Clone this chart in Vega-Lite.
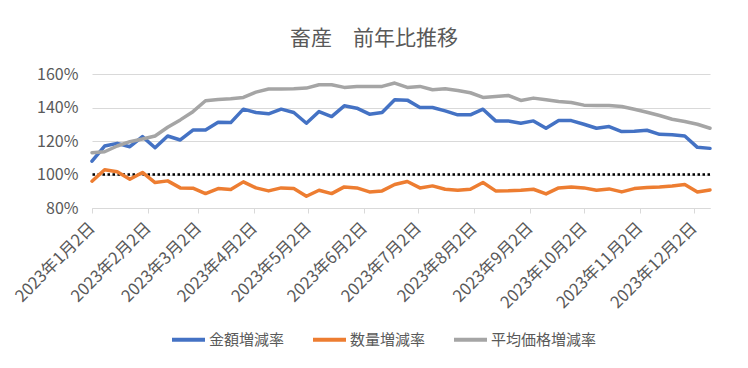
{
  "$schema": "https://vega.github.io/schema/vega-lite/v6.json",
  "width": 618,
  "height": 134,
  "autosize": {"type": "none"},
  "padding": {"left": 92, "top": 74, "right": 38, "bottom": 160},
  "background": "white",
  "config": {"font": "Noto Sans CJK JP", "view": {"stroke": null}},
  "title": {"text": "畜産　前年比推移", "fontSize": 21, "fontWeight": "normal", "color": "#595959", "anchor": "middle", "dx": -27, "offset": -4, "baseline": "bottom", "font": "Noto Sans CJK JP"},
  "data": {"values": [
    {"date": "2023-01-02T00:00:00", "金額増減率": 108, "数量増減率": 96, "平均価格増減率": 113},
    {"date": "2023-01-09T00:00:00", "金額増減率": 117, "数量増減率": 102.8, "平均価格増減率": 113.6},
    {"date": "2023-01-16T00:00:00", "金額増減率": 118.6, "数量増減率": 101.6, "平均価格増減率": 117},
    {"date": "2023-01-23T00:00:00", "金額増減率": 116.6, "数量増減率": 97.2, "平均価格増減率": 119.6},
    {"date": "2023-01-30T00:00:00", "金額増減率": 122.6, "数量増減率": 101.2, "平均価格増減率": 121.2},
    {"date": "2023-02-06T00:00:00", "金額増減率": 116, "数量増減率": 95.2, "平均価格増減率": 123},
    {"date": "2023-02-13T00:00:00", "金額増減率": 123, "数量増減率": 96.2, "平均価格増減率": 128.2},
    {"date": "2023-02-20T00:00:00", "金額増減率": 120.6, "数量増減率": 92, "平均価格増減率": 132.6},
    {"date": "2023-02-27T00:00:00", "金額増減率": 126.5, "数量増減率": 91.8, "平均価格増減率": 137.5},
    {"date": "2023-03-06T00:00:00", "金額増減率": 126.6, "数量増減率": 88.6, "平均価格増減率": 144},
    {"date": "2023-03-13T00:00:00", "金額増減率": 131.2, "数量増減率": 91.6, "平均価格増減率": 144.8},
    {"date": "2023-03-20T00:00:00", "金額増減率": 131, "数量増減率": 91, "平均価格増減率": 145.2},
    {"date": "2023-03-27T00:00:00", "金額増減率": 139, "数量増減率": 95.6, "平均価格増減率": 146},
    {"date": "2023-04-03T00:00:00", "金額増減率": 137, "数量増減率": 92, "平均価格増減率": 149.2},
    {"date": "2023-04-10T00:00:00", "金額増減率": 136.2, "数量増減率": 90.2, "平均価格増減率": 151},
    {"date": "2023-04-17T00:00:00", "金額増減率": 139, "数量増減率": 92, "平均価格増減率": 151},
    {"date": "2023-04-24T00:00:00", "金額増減率": 137, "数量増減率": 91.6, "平均価格増減率": 151.2},
    {"date": "2023-05-01T00:00:00", "金額増減率": 130.6, "数量増減率": 87, "平均価格増減率": 151.6},
    {"date": "2023-05-08T00:00:00", "金額増減率": 137.6, "数量増減率": 90.6, "平均価格増減率": 153.6},
    {"date": "2023-05-15T00:00:00", "金額増減率": 134.6, "数量増減率": 88.6, "平均価格増減率": 153.6},
    {"date": "2023-05-22T00:00:00", "金額増減率": 141, "数量増減率": 92.6, "平均価格増減率": 152},
    {"date": "2023-05-29T00:00:00", "金額増減率": 139.6, "数量増減率": 92, "平均価格増減率": 152.6},
    {"date": "2023-06-05T00:00:00", "金額増減率": 136, "数量増減率": 89.6, "平均価格増減率": 152.6},
    {"date": "2023-06-12T00:00:00", "金額増減率": 137, "数量増減率": 90.2, "平均価格増減率": 152.6},
    {"date": "2023-06-19T00:00:00", "金額増減率": 144.6, "数量増減率": 94, "平均価格増減率": 154.6},
    {"date": "2023-06-26T00:00:00", "金額増減率": 144.4, "数量増減率": 95.8, "平均価格増減率": 152},
    {"date": "2023-07-03T00:00:00", "金額増減率": 140, "数量増減率": 92, "平均価格増減率": 152.6},
    {"date": "2023-07-10T00:00:00", "金額増減率": 140, "数量増減率": 93.2, "平均価格増減率": 150.6},
    {"date": "2023-07-17T00:00:00", "金額増減率": 138, "数量増減率": 91.2, "平均価格増減率": 151.2},
    {"date": "2023-07-24T00:00:00", "金額増減率": 135.6, "数量増減率": 90.6, "平均価格増減率": 150.2},
    {"date": "2023-07-31T00:00:00", "金額増減率": 135.6, "数量増減率": 91.2, "平均価格増減率": 148.8},
    {"date": "2023-08-07T00:00:00", "金額増減率": 139, "数量増減率": 95.2, "平均価格増減率": 146},
    {"date": "2023-08-14T00:00:00", "金額増減率": 132, "数量増減率": 90.2, "平均価格増減率": 146.6},
    {"date": "2023-08-21T00:00:00", "金額増減率": 132, "数量増減率": 90.3, "平均価格増減率": 147.2},
    {"date": "2023-08-28T00:00:00", "金額増減率": 130.6, "数量増減率": 90.6, "平均価格増減率": 144.2},
    {"date": "2023-09-04T00:00:00", "金額増減率": 132, "数量増減率": 91.2, "平均価格増減率": 145.6},
    {"date": "2023-09-11T00:00:00", "金額増減率": 127.6, "数量増減率": 88.4, "平均価格増減率": 144.6},
    {"date": "2023-09-18T00:00:00", "金額増減率": 132.2, "数量増減率": 92, "平均価格増減率": 143.6},
    {"date": "2023-09-25T00:00:00", "金額増減率": 132.2, "数量増減率": 92.6, "平均価格増減率": 143},
    {"date": "2023-10-02T00:00:00", "金額増減率": 130, "数量増減率": 92, "平均価格増減率": 141.4},
    {"date": "2023-10-09T00:00:00", "金額増減率": 127.6, "数量増減率": 90.6, "平均価格増減率": 141.2},
    {"date": "2023-10-16T00:00:00", "金額増減率": 128.6, "数量増減率": 91.4, "平均価格増減率": 141.2},
    {"date": "2023-10-23T00:00:00", "金額増減率": 125.6, "数量増減率": 89.6, "平均価格増減率": 140.6},
    {"date": "2023-10-30T00:00:00", "金額増減率": 125.8, "数量増減率": 91.6, "平均価格増減率": 139},
    {"date": "2023-11-06T00:00:00", "金額増減率": 126.4, "数量増減率": 92.2, "平均価格増減率": 137.2},
    {"date": "2023-11-13T00:00:00", "金額増減率": 124, "数量増減率": 92.6, "平均価格増減率": 135.2},
    {"date": "2023-11-20T00:00:00", "金額増減率": 123.8, "数量増減率": 93.2, "平均価格増減率": 133},
    {"date": "2023-11-27T00:00:00", "金額増減率": 123, "数量増減率": 94, "平均価格増減率": 131.6},
    {"date": "2023-12-04T00:00:00", "金額増減率": 116.2, "数量増減率": 89.6, "平均価格増減率": 130},
    {"date": "2023-12-11T00:00:00", "金額増減率": 115.6, "数量増減率": 90.8, "平均価格増減率": 127.6}
  ]},
  "layer": [
    {
      "data": {"values": [{"v": 100}]},
      "mark": {"type": "rule", "color": "black", "strokeWidth": 2.5, "strokeDash": [2.5, 2.5]},
      "encoding": {
        "y": {
          "field": "v", "type": "quantitative",
          "scale": {"domain": [80, 160], "zero": false, "nice": false},
          "axis": {
            "values": [80, 100, 120, 140, 160],
            "labelExpr": "datum.value + '%'",
            "labelFontSize": 16, "labelColor": "#595959", "labelFont": "Noto Sans CJK JP",
            "labelOverlap": false, "labelFlush": false, "labelBound": false,
            "domain": false, "ticks": false, "gridColor": "#D9D9D9", "labelPadding": 14, "title": null
          }
        }
      }
    },
    {
      "transform": [{"fold": ["金額増減率", "数量増減率", "平均価格増減率"], "as": ["series", "value"]}],
      "mark": {"type": "line", "strokeWidth": 3.5, "strokeJoin": "round", "strokeCap": "round"},
      "encoding": {
        "x": {
          "field": "date", "type": "temporal",
          "scale": {"domain": [{"year": 2023, "month": 1, "date": 2}, {"year": 2023, "month": 12, "date": 11}]},
          "axis": {
            "values": [
              {"year": 2023, "month": 1, "date": 2}, {"year": 2023, "month": 2, "date": 2}, {"year": 2023, "month": 3, "date": 2},
              {"year": 2023, "month": 4, "date": 2}, {"year": 2023, "month": 5, "date": 2}, {"year": 2023, "month": 6, "date": 2},
              {"year": 2023, "month": 7, "date": 2}, {"year": 2023, "month": 8, "date": 2}, {"year": 2023, "month": 9, "date": 2},
              {"year": 2023, "month": 10, "date": 2}, {"year": 2023, "month": 11, "date": 2}, {"year": 2023, "month": 12, "date": 2}
            ],
            "format": "%Y年%-m月%-d日",
            "labelAngle": -45, "labelAlign": "right", "labelBaseline": "middle",
            "labelFontSize": 16.5, "labelColor": "#595959", "labelFont": "Noto Sans CJK JP",
            "grid": false, "domainColor": "#D9D9D9", "tickColor": "#D9D9D9", "tickSize": 5,
            "labelPadding": 12, "title": null, "labelOverlap": false, "labelFlush": false, "labelBound": false
          }
        },
        "y": {
          "field": "value", "type": "quantitative",
          "scale": {"domain": [80, 160], "zero": false, "nice": false},
          "axis": {
            "values": [80, 100, 120, 140, 160],
            "labelExpr": "datum.value + '%'",
            "labelFontSize": 16, "labelColor": "#595959", "labelFont": "Noto Sans CJK JP",
            "labelOverlap": false, "labelFlush": false, "labelBound": false,
            "domain": false, "ticks": false, "gridColor": "#D9D9D9", "labelPadding": 14, "title": null
          }
        },
        "color": {
          "field": "series", "type": "nominal",
          "scale": {"domain": ["金額増減率", "数量増減率", "平均価格増減率"], "range": ["#4472C4", "#ED7D31", "#A5A5A5"]},
          "legend": {
            "orient": "none", "legendX": 78, "legendY": 247, "direction": "horizontal", "title": null,
            "symbolType": "stroke", "symbolStrokeWidth": 4, "symbolSize": 1089,
            "labelFontSize": 15, "labelColor": "#595959", "labelFont": "Noto Sans CJK JP",
            "labelOffset": 2, "columnPadding": 20, "labelLimit": 200
          }
        }
      }
    }
  ]
}
